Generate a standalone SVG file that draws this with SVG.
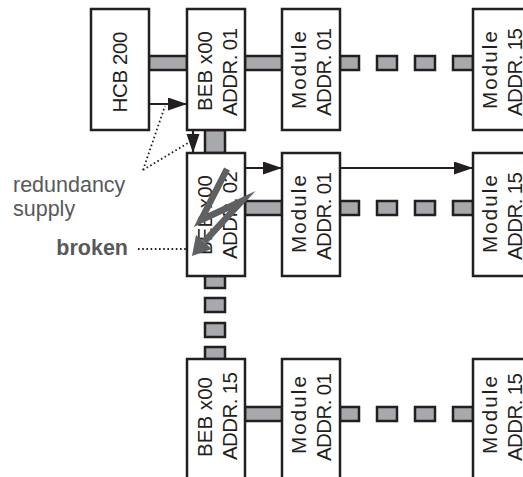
<svg xmlns="http://www.w3.org/2000/svg" width="523" height="477" viewBox="0 0 523 477">
<defs>
<style>
.box{fill:#fff;stroke:#231f20;stroke-width:2.5}
.bar{fill:#a7a9ac;stroke:#231f20;stroke-width:2.5}
.t{font-family:"Liberation Sans",Arial,sans-serif;font-size:20.5px;fill:#231f20;text-anchor:middle}
.lbl{font-family:"Liberation Sans",Arial,sans-serif;font-size:21.5px;fill:#58595b}
.arr{fill:none;stroke:#231f20;stroke-width:2.2}
.dot{fill:none;stroke:#231f20;stroke-width:1.8;stroke-dasharray:1.6 2.6}
</style>
<marker id="ah" markerUnits="userSpaceOnUse" markerWidth="20" markerHeight="14" refX="19" refY="6.5" orient="auto">
<path d="M0,0 L19,6.5 L0,13 Z" fill="#231f20"/>
</marker>
</defs>
<rect width="523" height="477" fill="#fff"/>
<g id="connectors">
<rect class="bar" x="149" y="56" width="38" height="14"/>
<rect class="bar" x="245" y="56" width="37" height="14"/>
<rect class="bar" x="340" y="56" width="19" height="14"/>
<rect class="bar" x="377" y="56" width="20" height="14"/>
<rect class="bar" x="415" y="56" width="20" height="14"/>
<rect class="bar" x="453" y="56" width="20" height="14"/>
<rect class="bar" x="245" y="201" width="37" height="14"/>
<rect class="bar" x="340" y="201" width="19" height="14"/>
<rect class="bar" x="377" y="201" width="20" height="14"/>
<rect class="bar" x="415" y="201" width="20" height="14"/>
<rect class="bar" x="453" y="201" width="20" height="14"/>
<rect class="bar" x="245" y="407" width="37" height="14"/>
<rect class="bar" x="340" y="407" width="19" height="14"/>
<rect class="bar" x="377" y="407" width="20" height="14"/>
<rect class="bar" x="415" y="407" width="20" height="14"/>
<rect class="bar" x="453" y="407" width="20" height="14"/>
<rect class="bar" x="205" y="130" width="20" height="23"/>
<rect class="bar" x="205" y="276" width="20" height="12"/>
<rect class="bar" x="205" y="298" width="20" height="14"/>
<rect class="bar" x="205" y="323" width="20" height="14"/>
<rect class="bar" x="205" y="347" width="20" height="12"/>
<line class="arr" x1="149" y1="104" x2="187" y2="104" marker-end="url(#ah)"/>
<line class="arr" x1="193" y1="130" x2="193" y2="153" marker-end="url(#ah)"/>
<line class="arr" x1="245" y1="168" x2="282" y2="168" marker-end="url(#ah)"/>
<line class="arr" x1="340" y1="168" x2="473" y2="168" marker-end="url(#ah)"/>
<line class="dot" x1="143" y1="170" x2="165" y2="106"/>
<line class="dot" x1="143" y1="170" x2="188" y2="143"/>
<line class="dot" x1="138" y1="249" x2="186" y2="249"/>
</g>
<g id="hcb200">
<rect class="box" x="91" y="9" width="58" height="121"/>
<text class="t" transform="translate(127,72) rotate(-90)" textLength="81">HCB 200</text>
</g>
<g id="beb01">
<rect class="box" x="187" y="9" width="58" height="121"/>
<text class="t" transform="translate(212,71) rotate(-90)" textLength="80">BEB x00</text>
<text class="t" transform="translate(237,72) rotate(-90)" textLength="88">ADDR. 01</text>
</g>
<g id="mod01-r1">
<rect class="box" x="282" y="9" width="58" height="121"/>
<text class="t" transform="translate(306,70) rotate(-90)" textLength="78">Module</text>
<text class="t" transform="translate(331,72) rotate(-90)" textLength="88">ADDR. 01</text>
</g>
<g id="mod15-r1">
<rect class="box" x="473" y="9" width="60" height="121"/>
<text class="t" transform="translate(497,70) rotate(-90)" textLength="78">Module</text>
<text class="t" transform="translate(522,72) rotate(-90)" textLength="88">ADDR. 15</text>
</g>
<g id="beb02">
<rect class="box" x="187" y="153" width="58" height="123"/>
<text class="t" transform="translate(212,215) rotate(-90)" textLength="80">BEB x00</text>
<text class="t" transform="translate(237,215) rotate(-90)" textLength="88">ADDR. 02</text>
</g>
<g id="mod01-r2">
<rect class="box" x="282" y="153" width="58" height="123"/>
<text class="t" transform="translate(306,214) rotate(-90)" textLength="78">Module</text>
<text class="t" transform="translate(331,216) rotate(-90)" textLength="88">ADDR. 01</text>
</g>
<g id="mod15-r2">
<rect class="box" x="473" y="153" width="60" height="123"/>
<text class="t" transform="translate(497,214) rotate(-90)" textLength="78">Module</text>
<text class="t" transform="translate(522,216) rotate(-90)" textLength="88">ADDR. 15</text>
</g>
<g id="beb15">
<rect class="box" x="187" y="359" width="58" height="130"/>
<text class="t" transform="translate(212,417) rotate(-90)" textLength="80">BEB x00</text>
<text class="t" transform="translate(237,416) rotate(-90)" textLength="88">ADDR. 15</text>
</g>
<g id="mod01-r3">
<rect class="box" x="282" y="359" width="58" height="130"/>
<text class="t" transform="translate(306,415) rotate(-90)" textLength="78">Module</text>
<text class="t" transform="translate(331,417) rotate(-90)" textLength="88">ADDR. 01</text>
</g>
<g id="mod15-r3">
<rect class="box" x="473" y="359" width="60" height="130"/>
<text class="t" transform="translate(497,415) rotate(-90)" textLength="78">Module</text>
<text class="t" transform="translate(522,417) rotate(-90)" textLength="88">ADDR. 15</text>
</g>
<g id="bolt">
<path d="M227,169 L201,220 L242,201 L204,242" fill="none" stroke="#5f6062" stroke-width="6.5" stroke-linejoin="miter" stroke-miterlimit="10"/>
<polygon points="192,256 196,235 212,249" fill="#5f6062"/>
</g>
<g id="labels">
<text class="lbl" x="13" y="192">redundancy</text>
<text class="lbl" x="13" y="216">supply</text>
<text class="lbl" x="128" y="255" font-weight="bold" font-size="21" text-anchor="end">broken</text>
</g>
</svg>
